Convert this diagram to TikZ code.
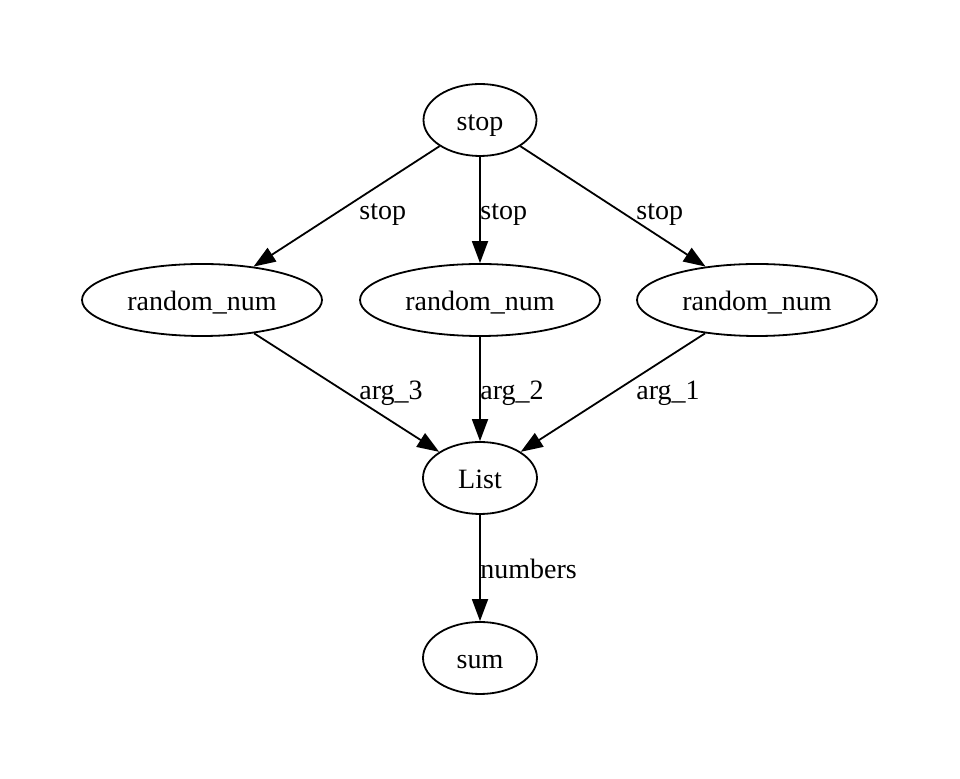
\documentclass[tikz,border=0pt]{standalone}
\usepackage{fontspec}
\setmainfont{Liberation Serif}
\usetikzlibrary{shapes, arrows.meta, positioning}

\tikzset{
  gnode/.style={draw, ellipse, line width=0.9pt, minimum height=36pt, inner sep=0pt,
    text height=11pt, text depth=0pt, font=\fontsize{14}{16}\selectfont},
  edge/.style={-{Triangle[length=11pt, width=8pt]}, line width=0.9pt},
  elabel/.style={anchor=base west, inner sep=0pt, font=\fontsize{14}{16}\selectfont}
}

\begin{document}
\begin{tikzpicture}[x=0.5pt, y=-0.5pt]
  \useasboundingbox (0,0) rectangle (960,779);

  % nodes
  \node[gnode, minimum width=56.5pt] (stop) at (480,120) {stop};
  \node[gnode, minimum width=120pt] (randL) at (202,300) {random\_num};
  \node[gnode, minimum width=120pt] (randM) at (480,300) {random\_num};
  \node[gnode, minimum width=120pt] (randR) at (757,300) {random\_num};
  \node[gnode, minimum width=57pt] (list) at (480,478) {List};
  \node[gnode, minimum width=57pt] (sum) at (480,658) {sum};

  % edges
  \draw[edge] (stop) -- (randL);
  \draw[edge] (stop) -- (randM);
  \draw[edge] (stop) -- (randR);
  \draw[edge] (randL) -- (list);
  \draw[edge] (randM) -- (list);
  \draw[edge] (randR) -- (list);
  \draw[edge] (list) -- (sum);

  % edge labels
  \node[elabel] (lstopL) at (359,220) {stop};
  \node[elabel] (lstopM) at (480,220) {stop};
  \node[elabel] (lstopR) at (636,220) {stop};
  \node[elabel] (larg3) at (359,400) {arg\_3};
  \node[elabel] (larg2) at (480,400) {arg\_2};
  \node[elabel] (larg1) at (636,400) {arg\_1};
  \node[elabel] (lnum) at (480,579) {numbers};
\end{tikzpicture}
\end{document}
